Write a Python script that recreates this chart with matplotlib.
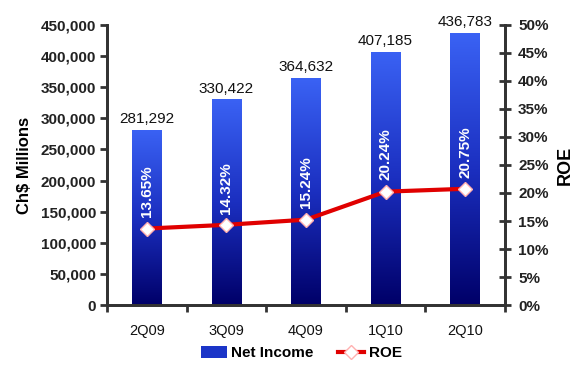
import matplotlib
matplotlib.use("Agg")
import matplotlib.pyplot as plt
import numpy as np
from matplotlib.colors import LinearSegmentedColormap
from matplotlib.lines import Line2D
from matplotlib.patches import Patch

# ── Données ──────────────────────────────────────────────────────────────
quarters = ["2Q09", "3Q09", "4Q09", "1Q10", "2Q10"]
net_income = [281292, 330422, 364632, 407185, 436783]
roe = [13.65, 14.32, 15.24, 20.24, 20.75]

plt.rcParams["font.family"] = ["Liberation Sans Narrow", "Liberation Sans", "DejaVu Sans"]

fig = plt.figure(figsize=(5.79, 3.72), dpi=100)
fig.patch.set_facecolor("white")
ax = fig.add_axes([0.185, 0.180, 0.687, 0.753])
ax2 = ax.twinx()

x = np.arange(len(quarters))
bar_w = 0.37
bars = ax.bar(x, net_income, width=bar_w, color="none", edgecolor="none", zorder=2)

# dégradé vertical bleu -> marine dans chaque barre
grad_cmap = LinearSegmentedColormap.from_list("blu", ["#000068", "#1b2fc0", "#3a62f4"])
ymax = 450000
for b in bars:
    x0, w, h = b.get_x(), b.get_width(), b.get_height()
    grad = np.linspace(0, 1, 256).reshape(-1, 1)
    im = ax.imshow(grad, cmap=grad_cmap, aspect="auto", origin="lower",
                   extent=[x0, x0 + w, 0, h], zorder=2, vmin=0, vmax=1)
    im.set_clip_path(b)

for xi, v in zip(x, net_income):
    ax.text(xi, v + 6000, f"{v:,}", ha="center", va="bottom",
            fontsize=11, color="#111111")

ax.set_xlim(-0.5, len(quarters) - 0.5)
ax.set_ylim(0, ymax)
ax.set_yticks(np.arange(0, 450001, 50000))
ax.set_yticklabels([f"{v:,}" for v in range(0, 450001, 50000)],
                   fontsize=11, fontweight="bold", color="#222222")
ax.set_xticks(x)
ax.set_xticklabels(quarters, fontsize=10.5, color="#111111")
ax.set_xticks(np.arange(-0.5, len(quarters)), minor=True)
ax.tick_params(axis="x", which="major", length=0, pad=14)
ax.tick_params(axis="x", which="minor", length=5, width=2, color="#333333")
ax.tick_params(axis="y", length=5, width=2, color="#333333", pad=3)
ax.set_ylabel("Ch$ Millions", fontsize=12, fontweight="bold", labelpad=6)

# ── ROE (axe droit) ──────────────────────────────────────────────────────
ax2.plot(x, roe, color="#e00000", linewidth=3, zorder=3,
         marker="D", markersize=7, markerfacecolor="white",
         markeredgecolor="#ffb0b0", markeredgewidth=1)
for xi, r in zip(x, roe):
    ax2.text(xi, r + 2.0, f"{r:.2f}%", rotation=90, ha="center", va="bottom",
             fontsize=11, fontweight="bold", color="white", zorder=4)

ax2.set_ylim(0, 50)
ax2.set_yticks(np.arange(0, 51, 5))
ax2.set_yticklabels([f"{v}%" for v in range(0, 51, 5)],
                    fontsize=11, fontweight="bold", color="#222222")
ax2.tick_params(axis="y", direction="inout", length=9, width=2, color="#333333", pad=5)
ax2.set_ylabel("ROE", fontsize=13, fontweight="bold", labelpad=6)

for a in (ax, ax2):
    a.spines["top"].set_visible(False)
    for s in ("left", "right", "bottom"):
        a.spines[s].set_linewidth(2)
        a.spines[s].set_color("#333333")

handles = [
    Patch(facecolor="#1b35c8", edgecolor="none"),
    Line2D([0], [0], color="#e00000", linewidth=3, marker="D", markersize=7,
           markerfacecolor="white", markeredgecolor="#ffb0b0"),
]
fig.legend(handles, ["Net Income", "ROE"], loc="center", ncol=2,
           bbox_to_anchor=(0.52, 0.05), frameon=False,
           prop={"weight": "bold", "size": 11},
           handlelength=1.7, handleheight=0.8, columnspacing=1.6, handletextpad=0.3)

fig.savefig("out.png", dpi=100, facecolor="white")
